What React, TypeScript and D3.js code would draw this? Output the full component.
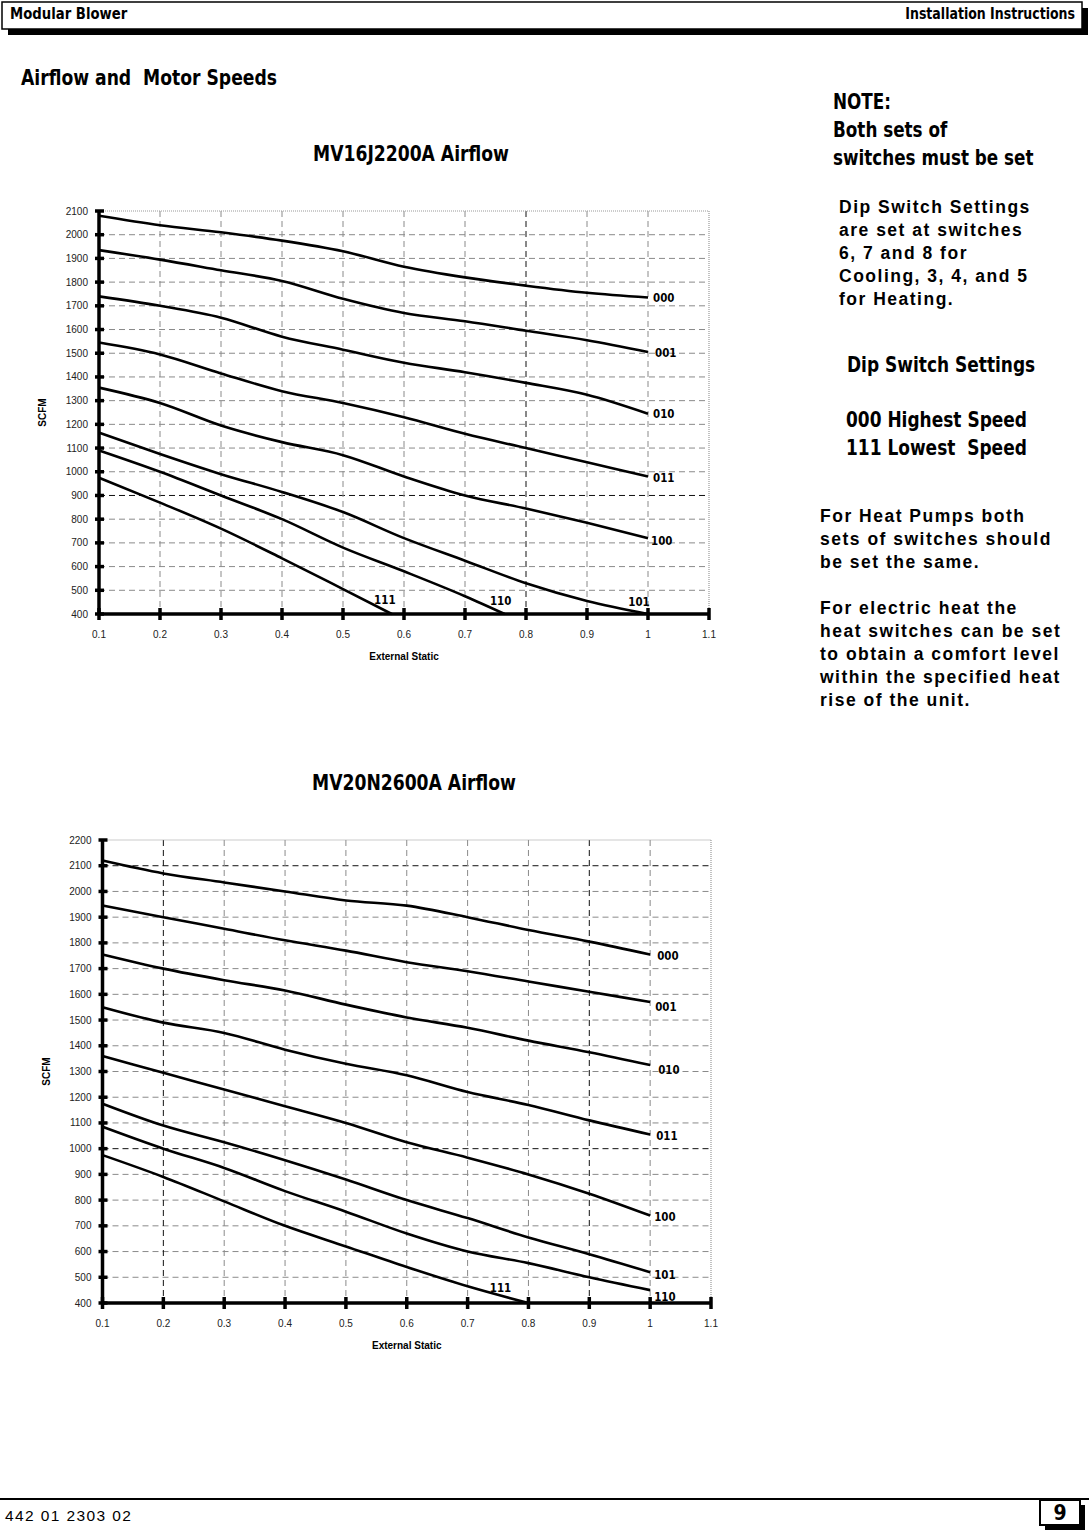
import React from 'react'
import * as d3 from 'd3'

// external static pressure (in. w.c.) where the curves were read
const staticPts = [0.1, 0.2, 0.3, 0.4, 0.5, 0.6, 0.7, 0.8, 0.9, 1.0]
const staticTicks = [0.1, 0.2, 0.3, 0.4, 0.5, 0.6, 0.7, 0.8, 0.9, 1, 1.1]

// MV16J2200A
const topYTicks = [400, 500, 600, 700, 800, 900, 1000, 1100, 1200, 1300, 1400, 1500, 1600, 1700, 1800, 1900, 2000, 2100]
const top000 = [2080, 2040, 2010, 1975, 1930, 1865, 1820, 1785, 1755, 1735]
const top001 = [1935, 1895, 1850, 1805, 1730, 1670, 1635, 1595, 1555, 1505]
const top010 = [1740, 1700, 1650, 1570, 1515, 1460, 1420, 1375, 1325, 1245]
const top011 = [1545, 1495, 1415, 1340, 1290, 1230, 1160, 1100, 1040, 980]
const top100 = [1355, 1290, 1195, 1125, 1070, 980, 900, 845, 785, 720]
const top101 = [1165, 1075, 990, 915, 830, 720, 625, 530, 455, 400]
const top110Static = [0.1, 0.2, 0.3, 0.4, 0.5, 0.6, 0.7, 0.765]
const top110 = [1090, 1000, 900, 800, 680, 580, 475, 400]
const top111Static = [0.1, 0.2, 0.3, 0.4, 0.5, 0.58]
const top111 = [975, 870, 760, 635, 505, 400]

// MV20N2600A
const botYTicks = [400, 500, 600, 700, 800, 900, 1000, 1100, 1200, 1300, 1400, 1500, 1600, 1700, 1800, 1900, 2000, 2100, 2200]
const bot000 = [2120, 2070, 2035, 2000, 1965, 1945, 1900, 1850, 1805, 1755]
const bot001 = [1945, 1900, 1855, 1810, 1770, 1725, 1690, 1650, 1610, 1570]
const bot010 = [1755, 1700, 1655, 1615, 1560, 1510, 1470, 1420, 1375, 1325]
const bot011 = [1550, 1490, 1450, 1385, 1330, 1285, 1220, 1170, 1110, 1055]
const bot100 = [1360, 1295, 1230, 1165, 1100, 1025, 965, 900, 825, 740]
const bot101 = [1175, 1090, 1025, 955, 880, 800, 730, 655, 590, 520]
const bot110 = [1085, 1000, 925, 835, 755, 670, 600, 555, 500, 450]
const bot111Static = [0.1, 0.2, 0.3, 0.4, 0.5, 0.6, 0.7, 0.8]
const bot111 = [975, 890, 795, 700, 620, 540, 465, 400]

const NARROW = "'DejaVu Sans Condensed', 'DejaVu Sans', sans-serif"
const SANS = "'Liberation Sans', Arial, sans-serif"

const topSeries = [
  { name: '000', xs: staticPts, ys: top000, lab: { dx: 5, dy: 4, anchor: 'start' } },
  { name: '001', xs: staticPts, ys: top001, lab: { dx: 7, dy: 5, anchor: 'start' } },
  { name: '010', xs: staticPts, ys: top010, lab: { dx: 5, dy: 4, anchor: 'start' } },
  { name: '011', xs: staticPts, ys: top011, lab: { dx: 5, dy: 5, anchor: 'start' } },
  { name: '100', xs: staticPts, ys: top100, lab: { dx: 3, dy: 7, anchor: 'start' } },
  { name: '101', xs: staticPts, ys: top101, lab: { dx: -9, dy: -8, anchor: 'middle' } },
  { name: '110', xs: top110Static, ys: top110, lab: { dx: -4, dy: -9, anchor: 'middle' } },
  { name: '111', xs: top111Static, ys: top111, lab: { dx: -7, dy: -10, anchor: 'middle' } },
]

const botSeries = [
  { name: '000', xs: staticPts, ys: bot000, lab: { dx: 7, dy: 6, anchor: 'start' } },
  { name: '001', xs: staticPts, ys: bot001, lab: { dx: 5, dy: 9, anchor: 'start' } },
  { name: '010', xs: staticPts, ys: bot010, lab: { dx: 8, dy: 9, anchor: 'start' } },
  { name: '011', xs: staticPts, ys: bot011, lab: { dx: 6, dy: 5, anchor: 'start' } },
  { name: '100', xs: staticPts, ys: bot100, lab: { dx: 4, dy: 5, anchor: 'start' } },
  { name: '101', xs: staticPts, ys: bot101, lab: { dx: 4, dy: 7, anchor: 'start' } },
  { name: '110', xs: staticPts, ys: bot110, lab: { dx: 4, dy: 11, anchor: 'start' } },
  { name: '111', xs: bot111Static, ys: bot111, lab: { dx: -28, dy: -11, anchor: 'middle' } },
]

// condensed bold text, squeezed a little more horizontally
function Narrow({ x, y, size, anchor = 'start', sx = 0.91, children }) {
  return (
    <text transform={`translate(${x},${y}) scale(${sx},1)`} textAnchor={anchor} fontFamily={NARROW}
      fontWeight="bold" fontSize={size} style={{ whiteSpace: 'pre' }}>{children}</text>
  )
}

function AirflowChart({ box, yTicks, series, title, titleX, darkY, darkX }) {
  const x = d3.scaleLinear().domain([0.1, 1.1]).range([box.left, box.right])
  const y = d3.scaleLinear().domain([400, yTicks[yTicks.length - 1]]).range([box.bottom, box.top])
  const line = d3.line().x(d => x(d[0])).y(d => y(d[1])).curve(d3.curveMonotoneX)
  const midY = (box.top + box.bottom) / 2
  const midX = (box.left + box.right) / 2

  return (
    <g>
      <Narrow x={titleX} y={box.top - 50} size={21} anchor="middle">{title}</Narrow>

      {/* grid */}
      {yTicks.slice(1, -1).map(t => (
        <line key={'gy' + t} x1={box.left} x2={box.right} y1={y(t)} y2={y(t)}
          stroke={darkY.includes(t) ? '#111' : '#8a8a8a'} strokeWidth={1} strokeDasharray="6,4" />
      ))}
      {staticTicks.slice(1, -1).map(t => (
        <line key={'gx' + t} x1={x(t)} x2={x(t)} y1={box.top} y2={box.bottom}
          stroke={darkX.includes(t) ? '#111' : '#8a8a8a'} strokeWidth={1} strokeDasharray="6,4" />
      ))}
      <line x1={box.left} x2={box.right} y1={box.top} y2={box.top} stroke="#999" strokeWidth={1.2} strokeDasharray="1,1" />
      <line x1={box.right} x2={box.right} y1={box.top} y2={box.bottom} stroke="#999" strokeWidth={1.2} strokeDasharray="1,1" />

      {/* curves */}
      {series.map(s => (
        <path key={s.name} d={line(s.xs.map((v, i) => [v, s.ys[i]]))} fill="none" stroke="#000" strokeWidth={2.6} />
      ))}
      {series.map(s => {
        const n = s.xs.length - 1
        return (
          <Narrow key={'l' + s.name} x={x(s.xs[n]) + s.lab.dx} y={y(s.ys[n]) + s.lab.dy} anchor={s.lab.anchor}
            size={13} sx={0.88}>{s.name}</Narrow>
        )
      })}

      {/* axes */}
      <line x1={box.left} x2={box.left} y1={box.top - 1} y2={box.bottom} stroke="#000" strokeWidth={3.5} />
      <line x1={box.left} x2={box.right} y1={box.bottom} y2={box.bottom} stroke="#000" strokeWidth={3.5} />
      {yTicks.map(t => (
        <g key={'ty' + t}>
          <line x1={box.left - 4} x2={box.left + 5} y1={y(t)} y2={y(t)} stroke="#000" strokeWidth={3.5} />
          <text x={box.left - 11} y={y(t)} dy="0.35em" textAnchor="end" fontFamily={SANS} fontSize={10} fill="#222">{t}</text>
        </g>
      ))}
      {staticTicks.map(t => (
        <g key={'tx' + t}>
          <line x1={x(t)} x2={x(t)} y1={box.bottom - 6} y2={box.bottom + 6} stroke="#000" strokeWidth={3.5} />
          <text x={x(t)} y={box.bottom + 24} textAnchor="middle" fontFamily={SANS} fontSize={10} fill="#222">{t}</text>
        </g>
      ))}
      <text transform={`translate(${box.left - 53},${midY}) rotate(-90)`} textAnchor="middle"
        fontFamily={SANS} fontWeight="bold" fontSize={10}>SCFM</text>
      <text x={midX} y={box.bottom + 46} textAnchor="middle" fontFamily={SANS} fontWeight="bold" fontSize={10}>External Static</text>
    </g>
  )
}

const noteLines = ['NOTE:', 'Both sets of', 'switches must be set']
const dipLines = ['Dip Switch Settings', 'are set at switches', '6, 7 and 8 for', 'Cooling, 3, 4, and 5', 'for Heating.']
const speedLines = ['000 Highest Speed', '111 Lowest  Speed']
const heatPumpLines = ['For Heat Pumps both', 'sets of switches should', 'be set the same.']
const electricLines = ['For electric heat the', 'heat switches can be set', 'to obtain a comfort level', 'within the specified heat', 'rise of the unit.']

export default function App() {
  const W = 1089
  const H = 1534
  const topBox = { left: 99, right: 709, top: 211, bottom: 614 }
  const botBox = { left: 102.5, right: 711, top: 840, bottom: 1303 }

  return (
    <svg width={W} height={H} style={{ position: 'absolute', left: 0, top: 0, background: '#fff' }}>
      <rect width={W} height={H} fill="#fff" />

      {/* header */}
      <rect x={8} y={8} width={1080} height={27} fill="#000" />
      <rect x={2} y={2} width={1080} height={27} fill="#fff" stroke="#000" strokeWidth={1.5} />
      <Narrow x={10} y={19} size={15.5} sx={0.95}>Modular Blower</Narrow>
      <Narrow x={1075} y={19} size={15.5} sx={0.9} anchor="end">Installation Instructions</Narrow>

      <Narrow x={21} y={85} size={21}>Airflow and  Motor Speeds</Narrow>

      <AirflowChart box={topBox} yTicks={topYTicks} series={topSeries} title="MV16J2200A Airflow" titleX={411}
        darkY={[900]} darkX={[0.8]} />
      <AirflowChart box={botBox} yTicks={botYTicks} series={botSeries} title="MV20N2600A Airflow" titleX={414}
        darkY={[2100, 1000]} darkX={[0.2, 0.9]} />

      {/* side notes */}
      {noteLines.map((t, i) => (
        <Narrow key={'n' + i} x={833} y={109 + i * 28} size={21} sx={0.89}>{t}</Narrow>
      ))}
      {dipLines.map((t, i) => (
        <text key={'d' + i} x={839} y={213 + i * 23} fontFamily={SANS} fontWeight="bold" fontSize={17.5} letterSpacing={1.5}>{t}</text>
      ))}
      <Narrow x={847} y={372} size={21} sx={0.9}>Dip Switch Settings</Narrow>
      {speedLines.map((t, i) => (
        <Narrow key={'s' + i} x={846} y={427 + i * 28} size={21} sx={0.9}>{t}</Narrow>
      ))}
      {heatPumpLines.map((t, i) => (
        <text key={'h' + i} x={820} y={522 + i * 23} fontFamily={SANS} fontWeight="bold" fontSize={17.5} letterSpacing={1.5}>{t}</text>
      ))}
      {electricLines.map((t, i) => (
        <text key={'e' + i} x={820} y={614 + i * 23} fontFamily={SANS} fontWeight="bold" fontSize={17.5} letterSpacing={1.5}>{t}</text>
      ))}

      {/* footer */}
      <line x1={0} x2={W} y1={1499} y2={1499} stroke="#000" strokeWidth={2} />
      <text x={5} y={1521} fontFamily={SANS} fontSize={15.5} letterSpacing={1.4}>442 01 2303 02</text>
      <rect x={1045} y={1505} width={40} height={25} fill="#000" />
      <rect x={1040} y={1500} width={40} height={25} fill="#fff" stroke="#000" strokeWidth={2} />
      <Narrow x={1060} y={1520} size={21} anchor="middle" sx={1}>9</Narrow>
    </svg>
  )
}
